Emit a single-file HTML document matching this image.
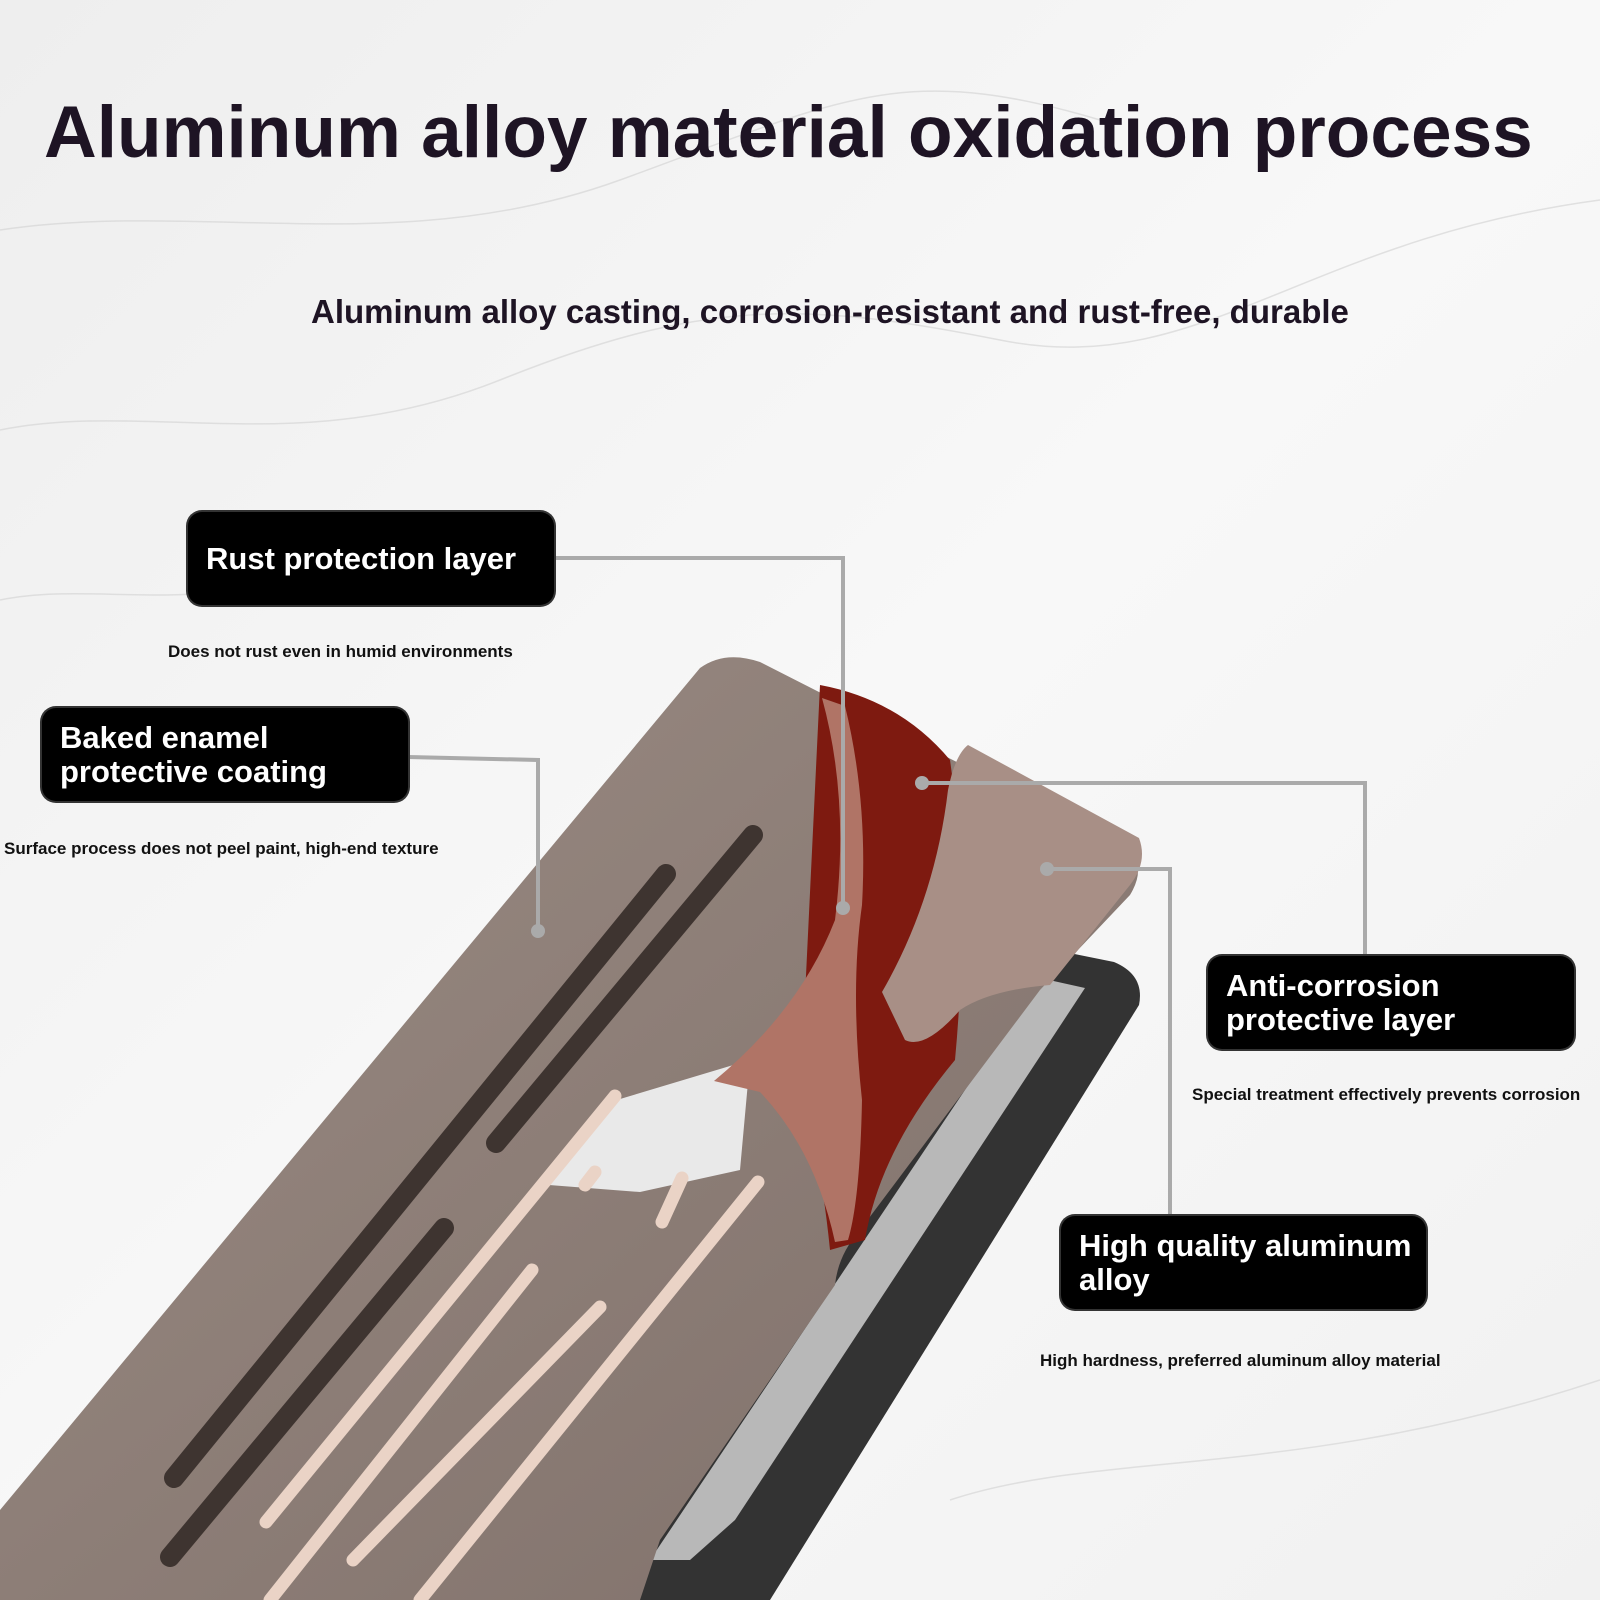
<!DOCTYPE html>
<html><head><meta charset="utf-8"><style>
html,body{margin:0;padding:0}
body{width:1600px;height:1600px;position:relative;overflow:hidden;background:#f4f4f4;font-family:"Liberation Sans",sans-serif}
.t{position:absolute;color:#1e1424;font-weight:bold;white-space:nowrap}
.box{position:absolute;background:#000;border-radius:14px;color:#fff;font-weight:bold;font-size:31px;line-height:34px;box-sizing:border-box;padding:0 18px;display:flex;align-items:center;white-space:nowrap;box-shadow:0 0 0 2px #333}
.cap{position:absolute;font-size:17px;font-weight:bold;color:#111;white-space:nowrap}
svg{position:absolute;left:0;top:0}
</style></head><body>
<svg width="1600" height="1600">
<defs>
<linearGradient id="bg" x1="0" y1="0" x2="1" y2="1"><stop offset="0" stop-color="#eeeeee"/><stop offset=".5" stop-color="#f8f8f8"/><stop offset="1" stop-color="#f1f1f1"/></linearGradient>
<linearGradient id="pl" x1="0" y1="0" x2="1" y2="1"><stop offset="0" stop-color="#9b8c84"/><stop offset="1" stop-color="#7f706a"/></linearGradient>
</defs>
<rect width="1600" height="1600" fill="url(#bg)"/>
<g stroke="#d6d6d6" stroke-width="1.5" fill="none" opacity=".7">
<path d="M0 230 C200 200 400 260 620 180 S900 60 1100 120"/>
<path d="M0 430 C150 400 300 460 500 380 S800 300 1000 340 1300 240 1600 200"/>
<path d="M0 600 C100 580 200 620 350 560"/>
<path d="M950 1500 C1100 1450 1300 1480 1600 1380"/>
</g>
<!-- frame -->
<path d="M1030 945 L1114 962 Q1145 975 1139 1005 L770 1600 L620 1600 Z" fill="#333333"/>
<path d="M1040 978 L1085 988 L735 1520 L690 1560 L650 1560 Z" fill="#b8b8b8"/>
<!-- plate -->
<path d="M700 668 Q725 650 760 662 L1120 845 Q1150 862 1130 895 L1040 990 L860 1230 Q838 1255 835 1285 L660 1540 L640 1600 L0 1600 L0 1510 Z" fill="url(#pl)"/>
<!-- white gap -->
<path d="M549 1185 L600 1105 L750 1060 L740 1170 L640 1192 Z" fill="#e9e9e9"/>
<!-- dark red -->
<path d="M820 685 Q900 700 950 760 Q970 900 955 1060 Q880 1150 865 1240 L830 1250 Q820 1150 800 1100 Z" fill="#7e1a10"/>
<!-- copper layer -->
<path d="M714 1081 Q800 1010 835 920 Q850 800 822 698 L845 706 Q868 800 862 905 Q850 990 862 1100 Q860 1200 848 1240 L835 1242 Q815 1150 760 1092 Z" fill="#b07466"/>
<!-- tan layer -->
<path d="M882 992 Q935 900 948 790 Q955 755 968 745 L1139 838 Q1148 862 1130 885 L1050 985 Q990 990 960 1010 Q925 1050 905 1040 Z" fill="#a88f86"/>
<!-- dark slots -->
<g stroke="#3e3430" stroke-width="20" stroke-linecap="round">
<line x1="174" y1="1478" x2="666" y2="874"/>
<line x1="444" y1="1228" x2="170" y2="1557"/>
<line x1="753" y1="835" x2="496" y2="1143"/>
</g>
<!-- light slots -->
<g stroke="#ead3c6" stroke-width="13" stroke-linecap="round">
<line x1="266" y1="1522" x2="615" y2="1096"/>
<line x1="532" y1="1270" x2="270" y2="1600"/>
<line x1="353" y1="1560" x2="600" y2="1307"/>
<line x1="758" y1="1182" x2="420" y2="1600"/>
<line x1="662" y1="1222" x2="682" y2="1178"/>
<line x1="585" y1="1185" x2="595" y2="1172"/>
</g>
<!-- connectors -->
<g stroke="#aaaaaa" stroke-width="4" fill="none">
<polyline points="554,558 843,558 843,908"/>
<polyline points="408,757 538,760 538,931"/>
<polyline points="922,783 1365,783 1365,958"/>
<polyline points="1047,869 1170,869 1170,1218"/>
</g>
<g fill="#aaaaaa"><circle cx="843" cy="908" r="7"/><circle cx="538" cy="931" r="7"/><circle cx="922" cy="783" r="7"/><circle cx="1047" cy="869" r="7"/></g>
</svg>
<div class="t" style="left:44px;top:85px;font-size:73px;line-height:96px">Aluminum alloy material oxidation process</div>
<div class="t" style="left:311px;top:292px;font-size:33px;line-height:40px">Aluminum alloy casting, corrosion-resistant and rust-free, durable</div>
<div class="box" style="left:188px;top:512px;width:366px;height:93px">Rust protection layer</div>
<div class="cap" style="left:168px;top:642px">Does not rust even in humid environments</div>
<div class="box" style="left:42px;top:708px;width:366px;height:93px">Baked enamel<br>protective coating</div>
<div class="cap" style="left:4px;top:839px">Surface process does not peel paint, high-end texture</div>
<div class="box" style="left:1208px;top:956px;width:366px;height:93px">Anti-corrosion<br>protective layer</div>
<div class="cap" style="left:1192px;top:1085px">Special treatment effectively prevents corrosion</div>
<div class="box" style="left:1061px;top:1216px;width:365px;height:93px">High quality aluminum<br>alloy</div>
<div class="cap" style="left:1040px;top:1351px">High hardness, preferred aluminum alloy material</div>
</body></html>
